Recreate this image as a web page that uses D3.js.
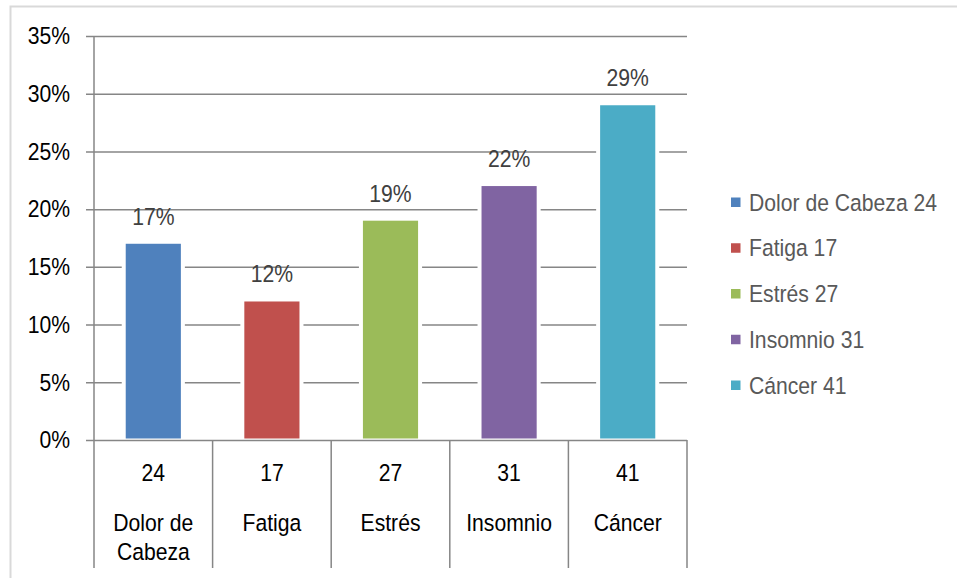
<!DOCTYPE html>
<html>
<head>
<meta charset="utf-8">
<script src="https://cdn.jsdelivr.net/npm/d3@7"></script>
<style>
  html, body { margin: 0; padding: 0; background: #fff; }
  svg { display: block; font-family: "Liberation Sans", Arial, sans-serif; }
</style>
</head>
<body>
<svg id="chart" width="957" height="578"></svg>
<script>
// Symptoms reported: count and share of all responses
const categories = ["Dolor de Cabeza", "Fatiga", "Estrés", "Insomnio", "Cáncer"];
const categoryLines = [["Dolor de", "Cabeza"], ["Fatiga"], ["Estrés"], ["Insomnio"], ["Cáncer"]];
const counts = [24, 17, 27, 31, 41];
const shares = [0.17, 0.12, 0.19, 0.22, 0.29];
const colors = ["#4F81BD", "#C0504D", "#9BBB59", "#8064A2", "#4BACC6"];
const yTicks = [0, 0.05, 0.10, 0.15, 0.20, 0.25, 0.30, 0.35];

const svg = d3.select("#chart");
const plot = { left: 94, right: 687, top: 36, bottom: 440 };
const axisBottom = 568;
const gridColor = "#868686";
const FONT_SIZE = "23.5px";
const SQUEEZE = 0.9; // slightly condensed lettering

// Places a text element at (px, py) with horizontally condensed glyphs
function place(sel, px, py) {
  sel.attr("x", 0).attr("y", 0)
    .attr("transform", function (d, i) {
      const X = typeof px === "function" ? px.call(this, d, i) : px;
      const Y = typeof py === "function" ? py.call(this, d, i) : py;
      return `translate(${X},${Y}) scale(${SQUEEZE},1)`;
    });
  return sel;
}

// Outer chart frame
svg.append("rect")
  .attr("x", 10.5).attr("y", 6.5)
  .attr("width", 1000).attr("height", 700)
  .attr("fill", "none").attr("stroke", "#d9d9d9").attr("stroke-width", 2);

const x = d3.scaleBand().domain(categories).range([plot.left, plot.right]).padding(0);
const y = d3.scaleLinear().domain([0, 0.35]).range([plot.bottom, plot.top]);

// Horizontal gridlines with outward tick marks
const yAxis = d3.axisLeft(y)
  .tickValues(yTicks)
  .tickFormat(d3.format(".0%"))
  .tickSizeInner(plot.right - plot.left + 8)
  .tickSizeOuter(0);

const gy = svg.append("g")
  .attr("transform", `translate(${plot.right},0)`)
  .call(yAxis);
gy.select(".domain").remove();
gy.selectAll(".tick line").attr("stroke", gridColor).attr("stroke-width", 1.5);
gy.selectAll(".tick text").remove();

// Percentage labels, right-aligned left of the axis
place(
  svg.append("g").selectAll("text")
    .data(yTicks)
    .join("text")
    .attr("text-anchor", "end")
    .attr("dy", "0.35em")
    .attr("fill", "#000")
    .style("font-size", FONT_SIZE)
    .text(d3.format(".0%")),
  70, d => y(d)
);

// Vertical axis line
svg.append("line")
  .attr("x1", plot.left).attr("x2", plot.left)
  .attr("y1", y(0.35)).attr("y2", axisBottom)
  .attr("stroke", gridColor).attr("stroke-width", 1.5);

// Category separators below the plot
const edges = categories.map(c => x(c)).concat([x(categories[categories.length - 1]) + x.bandwidth()]);
svg.append("g").selectAll("line")
  .data(edges.slice(1))
  .join("line")
  .attr("x1", d => d).attr("x2", d => d)
  .attr("y1", y(0)).attr("y2", axisBottom)
  .attr("stroke", gridColor).attr("stroke-width", 1.5);

// Bars (with a white halo that breaks the gridlines)
const barW = x.bandwidth() * 0.465;
const bars = svg.append("g");
bars.selectAll("rect.halo")
  .data(categories)
  .join("rect")
  .attr("class", "halo")
  .attr("x", c => x(c) + (x.bandwidth() - barW) / 2 - 4)
  .attr("y", (c, i) => y(shares[i]) - 1)
  .attr("width", barW + 8)
  .attr("height", (c, i) => y(0) - y(shares[i]) - 0.5)
  .attr("fill", "#fff");
bars.selectAll("rect.bar")
  .data(categories)
  .join("rect")
  .attr("class", "bar")
  .attr("x", c => x(c) + (x.bandwidth() - barW) / 2)
  .attr("y", (c, i) => y(shares[i]))
  .attr("width", barW)
  .attr("height", (c, i) => y(0) - y(shares[i]) - 1.5)
  .attr("fill", (c, i) => colors[i]);

// Value labels above bars
place(
  svg.append("g").selectAll("text")
    .data(categories)
    .join("text")
    .attr("text-anchor", "middle")
    .attr("fill", "#404040")
    .style("font-size", FONT_SIZE)
    .text((c, i) => d3.format(".0%")(shares[i])),
  c => x(c) + x.bandwidth() / 2,
  (c, i) => y(shares[i]) - 19
);

// Two-level category axis: counts, then names
const catG = svg.append("g");
place(
  catG.selectAll("text.count")
    .data(categories)
    .join("text")
    .attr("class", "count")
    .attr("text-anchor", "middle")
    .attr("fill", "#000")
    .style("font-size", FONT_SIZE)
    .text((c, i) => counts[i]),
  c => x(c) + x.bandwidth() / 2,
  481
);

place(
  catG.selectAll("text.name")
    .data(categories)
    .join("text")
    .attr("class", "name")
    .attr("text-anchor", "middle")
    .attr("fill", "#000")
    .style("font-size", FONT_SIZE),
  c => x(c) + x.bandwidth() / 2,
  531
).each(function (c, i) {
  const t = d3.select(this);
  categoryLines[i].forEach((line, k) => {
    t.append("tspan")
      .attr("x", 0)
      .attr("dy", k === 0 ? 0 : 29)
      .text(line);
  });
});

// Legend
const legendY = d3.scalePoint().domain(categories).range([202, 385]);
const items = svg.append("g").selectAll("g")
  .data(categories)
  .join("g")
  .attr("transform", c => `translate(731,${legendY(c)})`);
items.append("rect")
  .attr("x", 0).attr("y", -4.5)
  .attr("width", 9.5).attr("height", 9.5)
  .attr("fill", (c, i) => colors[i]);
place(
  items.append("text")
    .attr("fill", "#595959")
    .style("font-size", FONT_SIZE)
    .text((c, i) => `${c} ${counts[i]}`),
  18, 8.5
);
</script>
</body>
</html>
